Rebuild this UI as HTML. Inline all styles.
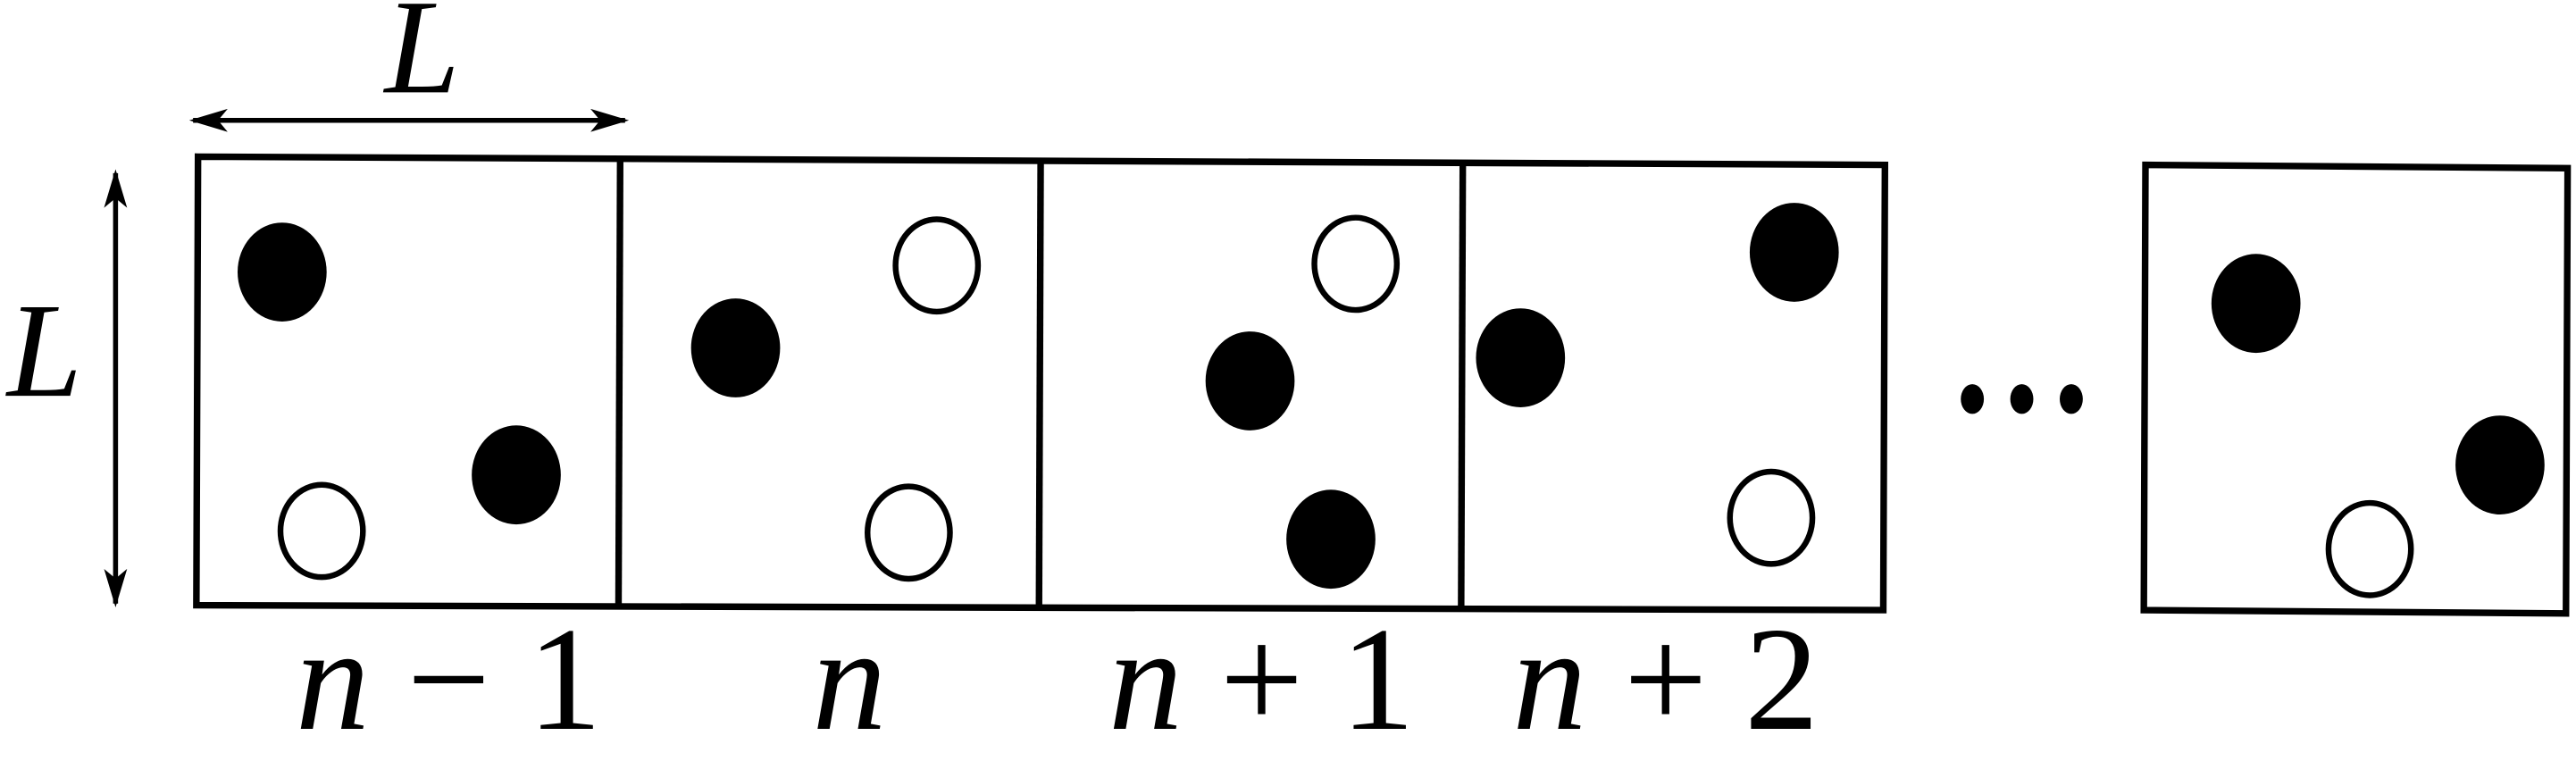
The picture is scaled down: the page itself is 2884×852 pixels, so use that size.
<!DOCTYPE html>
<html><head><meta charset="utf-8"><style>
html,body{margin:0;padding:0;background:#fff;width:2884px;height:852px;overflow:hidden}
svg{display:block}
text{font-family:"Liberation Serif",serif;fill:#000}
.i{font-style:italic}
</style></head><body>
<svg width="2884" height="852" viewBox="0 0 1562 461.5" xmlns="http://www.w3.org/2000/svg">
<defs>
<marker id="ah" viewBox="0 0 20 12" refX="18" refY="6" markerWidth="24" markerHeight="14" orient="auto-start-reverse" markerUnits="userSpaceOnUse">
<path d="M0,0 L20,6 L0,12 L5,6 Z" fill="#000"/>
</marker>
</defs>
<g stroke="#000" stroke-width="4" fill="none">
<line x1="117" y1="73" x2="379" y2="73" stroke-width="3" marker-start="url(#ah)" marker-end="url(#ah)"/>
<line x1="70" y1="105" x2="70" y2="366" stroke-width="3" marker-start="url(#ah)" marker-end="url(#ah)"/>
<polygon points="120,95 1143,100 1142,370 119,367"/>
<line x1="376" y1="96" x2="375" y2="367"/>
<line x1="631" y1="97" x2="630" y2="368"/>
<line x1="887" y1="99" x2="886" y2="369"/>
<polygon points="1301,100 1557,102 1556,372 1300,370"/>
</g>
<g fill="#000">
<ellipse cx="171" cy="165" rx="27" ry="30"/>
<ellipse cx="313" cy="288" rx="27" ry="30"/>
<ellipse cx="446" cy="211" rx="27" ry="30"/>
<ellipse cx="758" cy="231" rx="27" ry="30"/>
<ellipse cx="807" cy="327" rx="27" ry="30"/>
<ellipse cx="922" cy="217" rx="27" ry="30"/>
<ellipse cx="1088" cy="153" rx="27" ry="30"/>
<ellipse cx="1368" cy="184" rx="27" ry="30"/>
<ellipse cx="1516" cy="282" rx="27" ry="30"/>
<ellipse cx="1196" cy="242" rx="7" ry="9"/>
<ellipse cx="1226" cy="242" rx="7" ry="9"/>
<ellipse cx="1256" cy="242" rx="7" ry="9"/>
</g>
<g fill="#fff" stroke="#000" stroke-width="3.5">
<ellipse cx="195" cy="322" rx="25" ry="28"/>
<ellipse cx="568" cy="161" rx="25" ry="28"/>
<ellipse cx="551" cy="323" rx="25" ry="28"/>
<ellipse cx="822" cy="160" rx="25" ry="28"/>
<ellipse cx="1074" cy="314" rx="25" ry="28"/>
<ellipse cx="1437" cy="333" rx="25" ry="28"/>
</g>
<text class="i" x="256" y="56" font-size="82" text-anchor="middle">L</text>
<text class="i" x="27" y="240" font-size="82" text-anchor="middle">L</text>
<text x="272" y="442" font-size="90" text-anchor="middle"><tspan class="i">n</tspan> − 1</text>
<text class="i" x="515" y="442" font-size="90" text-anchor="middle">n</text>
<text x="765" y="442" font-size="90" text-anchor="middle"><tspan class="i">n</tspan> + 1</text>
<text x="1010" y="442" font-size="90" text-anchor="middle"><tspan class="i">n</tspan> + 2</text>
</svg>
</body></html>
